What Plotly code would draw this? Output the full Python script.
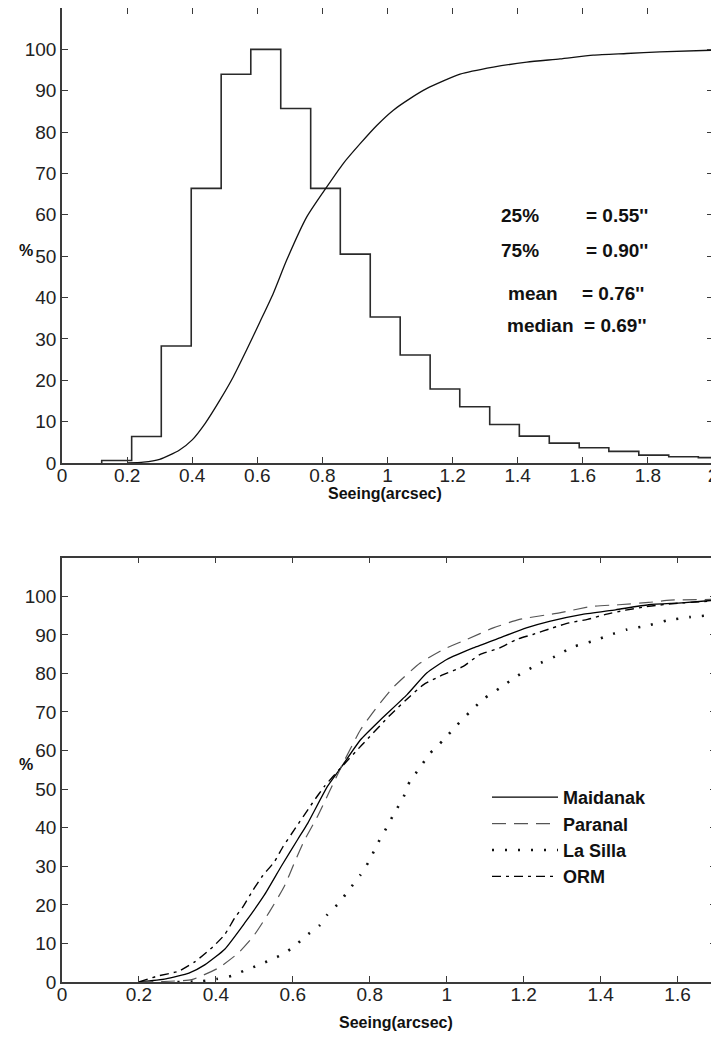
import plotly.graph_objects as go

# ---------------- top panel data ----------------
bin_left = [0.122, 0.214, 0.305, 0.397, 0.489, 0.580, 0.672, 0.764, 0.855, 0.947,
            1.039, 1.131, 1.222, 1.314, 1.405, 1.497, 1.589, 1.680, 1.772, 1.864, 1.955]
bin_width = 0.0917
hist_pct = [0.6, 6.4, 28.3, 66.4, 94.0, 100.0, 85.7, 66.4, 50.5, 35.3,
            26.1, 17.9, 13.6, 9.3, 6.5, 4.8, 3.7, 2.8, 1.9, 1.5, 1.3]

cdf_x = [0.20, 0.25, 0.30, 0.36, 0.40, 0.44, 0.485, 0.526, 0.567, 0.608, 0.649, 0.69,
         0.752, 0.813, 0.864, 0.916, 0.967, 1.018, 1.069, 1.12, 1.223, 1.325, 1.428,
         1.53, 1.632, 1.735, 1.837, 2.0]
cdf_y = [0.0, 0.2, 0.9, 3.1, 5.6, 9.6, 15.2, 20.8, 27.3, 34.1, 41.0, 49.0,
         59.5, 66.7, 72.4, 77.2, 81.6, 85.3, 88.1, 90.5, 94.0, 95.7, 96.9,
         97.7, 98.6, 99.0, 99.4, 99.8]

stat_labels = ["25%", "75%", "mean", "median"]
stat_values = ["= 0.55''", "= 0.90''", "= 0.76''", "= 0.69''"]

# ---------------- bottom panel data ----------------
maid_x = [0.20, 0.27, 0.33, 0.372, 0.423, 0.475, 0.527, 0.570, 0.613, 0.639, 0.690, 0.7245,
          0.776, 0.828, 0.897, 0.948, 1.0, 1.069, 1.138, 1.207, 1.267, 1.353, 1.439, 1.525,
          1.611, 1.7]
maid_y = [0.0, 0.8, 2.3, 4.5, 8.5, 15.3, 22.7, 30.0, 37.0, 41.2, 50.7, 55.5,
          62.8, 68.0, 74.5, 80.1, 83.6, 86.6, 89.2, 91.8, 93.5, 95.3, 96.5, 97.8,
          98.3, 99.0]

para_x = [0.20, 0.28, 0.337, 0.406, 0.458, 0.497, 0.540, 0.578, 0.604, 0.630, 0.664, 0.7245,
          0.776, 0.815, 0.862, 0.931, 0.991, 1.052, 1.121, 1.189, 1.293, 1.379, 1.447, 1.525,
          1.581, 1.7]
para_y = [0.0, 0.2, 0.6, 3.6, 7.5, 11.8, 18.3, 24.8, 30.9, 36.7, 42.9, 55.5,
          65.4, 70.8, 76.5, 82.7, 86.2, 88.8, 91.8, 94.0, 95.7, 97.4, 97.8, 98.4,
          99.0, 99.2]

lasi_x = [0.30, 0.363, 0.402, 0.441, 0.475, 0.514, 0.548, 0.576, 0.606, 0.632, 0.669, 0.690,
          0.720, 0.746, 0.776, 0.798, 0.819, 0.843, 0.864, 0.888, 0.904, 0.927, 0.955, 0.990,
          1.024, 1.059, 1.097, 1.138, 1.183, 1.235, 1.282, 1.329, 1.377, 1.422, 1.469, 1.522,
          1.572, 1.631, 1.7]
lasi_y = [0.0, 0.2, 0.8, 1.6, 3.0, 4.5, 6.0, 7.3, 9.4, 11.8, 14.6, 17.5,
          20.5, 23.9, 27.8, 31.3, 35.6, 39.9, 43.8, 48.0, 52.0, 55.1, 59.1, 62.6,
          66.3, 69.9, 73.5, 76.2, 79.3, 82.3, 84.4, 86.9, 88.3, 89.9, 91.4, 92.4,
          93.7, 94.6, 95.2]

orm_x = [0.20, 0.247, 0.303, 0.346, 0.393, 0.423, 0.449, 0.471, 0.497, 0.522, 0.553, 0.574,
         0.604, 0.651, 0.682, 0.7245, 0.78, 0.854, 0.905, 0.940, 0.991, 1.043, 1.086, 1.138,
         1.181, 1.224, 1.275, 1.318, 1.366, 1.413, 1.465, 1.525, 1.6, 1.7]
orm_y = [0.0, 1.5, 2.8, 5.3, 9.2, 12.3, 16.6, 19.6, 23.9, 27.6, 31.3, 35.0,
         39.5, 46.4, 50.7, 55.5, 61.5, 69.3, 74.1, 77.1, 79.7, 81.8, 84.9, 86.6,
         88.8, 90.1, 91.8, 93.1, 94.0, 95.3, 96.4, 97.4, 98.2, 98.8]

site_names = ["Maidanak", "Paranal", "La Silla", "ORM"]

top_ticks = [0, 0.2, 0.4, 0.6, 0.8, 1.0, 1.2, 1.4, 1.6, 1.8, 2.0]
top_tick_text = ["0", "0.2", "0.4", "0.6", "0.8", "1", "1.2", "1.4", "1.6", "1.8", "2"]
bot_ticks = [0, 0.2, 0.4, 0.6, 0.8, 1.0, 1.2, 1.4, 1.6]
bot_tick_text = ["0", "0.2", "0.4", "0.6", "0.8", "1", "1.2", "1.4", "1.6"]
y_ticks = [0, 10, 20, 30, 40, 50, 60, 70, 80, 90, 100]

# ---------------- figure geometry ----------------
# the page body has an 8px margin, so the figure starts at screen (8, 8)
OFF = 8
W, H = 719 - OFF, 1043 - OFF
ML, MR, MT, MB = 62 - OFF, 3, 0, H - (982 - OFF)
plot_w = W - ML - MR
plot_h = H - MT - MB


def px_x(p):
    """screen pixel x -> paper x"""
    return (p - OFF - ML) / plot_w


def px_y(p):
    """screen pixel y -> paper y"""
    return (H - MB - (p - OFF)) / plot_h


fig = go.Figure()

step_x = bin_left + [bin_left[-1] + bin_width]
step_y = hist_pct + [hist_pct[-1]]
fig.add_trace(go.Scatter(x=[bin_left[0]] + step_x, y=[0] + step_y, mode="lines",
                         line=dict(color="#2a2a2a", width=1.6, shape="hv"),
                         xaxis="x", yaxis="y", showlegend=False, hoverinfo="skip"))
fig.add_trace(go.Scatter(x=cdf_x, y=cdf_y, mode="lines",
                         line=dict(color="#111111", width=1.3, shape="spline", smoothing=0.6),
                         xaxis="x", yaxis="y", showlegend=False))

styles = [
    dict(color="#000000", width=1.3, dash="solid"),
    dict(color="#555555", width=1.2, dash="14px,8px"),
    dict(color="#111111", width=2.6, dash="2px,11px"),
    dict(color="#000000", width=1.4, dash="9px,5px,3px,5px"),
]
series = [(maid_x, maid_y), (para_x, para_y), (lasi_x, lasi_y), (orm_x, orm_y)]
for name, (xs, ys), st in zip(site_names, series, styles):
    fig.add_trace(go.Scatter(x=xs, y=ys, mode="lines", name=name,
                             line=dict(shape="spline", smoothing=0.5, **st),
                             xaxis="x2", yaxis="y2"))

axis_common = dict(showline=True, linecolor="#3a3a3a", linewidth=1.5, mirror="ticks",
                   ticks="inside", ticklen=6, tickwidth=1.3, tickcolor="#3a3a3a",
                   showgrid=False, zeroline=False, automargin=False,
                   tickfont=dict(family="Liberation Sans, Arial", size=19, color="#222222"))

fig.update_layout(
    width=W, height=H,
    margin=dict(l=ML, r=MR, t=MT, b=MB, autoexpand=False),
    paper_bgcolor="white", plot_bgcolor="white",
    xaxis=dict(domain=[0, px_x(713)], range=[0, 2], tickvals=top_ticks,
               ticktext=top_tick_text, anchor="y", ticklabelstandoff=-6, **axis_common),
    yaxis=dict(domain=[px_y(463), px_y(8)], range=[0, 110], tickvals=y_ticks,
               anchor="x", **axis_common),
    xaxis2=dict(domain=[0, 1], range=[0, 1.7], tickvals=bot_ticks,
                ticktext=bot_tick_text, anchor="y2", ticklabelstandoff=-6, **axis_common),
    yaxis2=dict(domain=[0, px_y(557.7)], range=[0, 110], tickvals=y_ticks,
                anchor="x2", **axis_common),
    showlegend=True,
    legend=dict(x=px_x(487), y=px_y(779), xanchor="left", yanchor="top",
                bgcolor="rgba(0,0,0,0)", itemwidth=66, tracegroupgap=0,
                font=dict(family="Liberation Sans, Arial", size=18, color="#111111",
                          weight="bold")),
)

ann_font = dict(family="Liberation Sans, Arial", size=19, color="#111111", weight="bold")
stat_pos_y = [59.9, 51.4, 41.0, 33.3]
label_x = [1.343, 1.343, 1.363, 1.361]
value_x = [1.604, 1.604, 1.591, None]
for lab, val, yv, lx, vx in zip(stat_labels, stat_values, stat_pos_y, label_x, value_x):
    if vx is None:
        fig.add_annotation(x=lx, y=yv, xref="x", yref="y", text=lab + "  " + val,
                           showarrow=False, xanchor="left", font=ann_font)
    else:
        fig.add_annotation(x=lx, y=yv, xref="x", yref="y", text=lab,
                           showarrow=False, xanchor="left", font=ann_font)
        fig.add_annotation(x=vx, y=yv, xref="x", yref="y", text=val,
                           showarrow=False, xanchor="left", font=ann_font)

title_font = dict(family="Liberation Sans, Arial", size=16, color="#111111", weight="bold")
fig.add_annotation(x=px_x(385), y=px_y(493), xref="paper", yref="paper",
                   text="Seeing(arcsec)", showarrow=False, font=title_font)
fig.add_annotation(x=px_x(396), y=px_y(1033), xref="paper", yref="paper",
                   text="Seeing(arcsec)", showarrow=False, font=title_font)
fig.add_annotation(x=px_x(17), y=px_y(240), xref="paper", yref="paper",
                   text="%", showarrow=False, font=title_font)
fig.add_annotation(x=px_x(17), y=px_y(775), xref="paper", yref="paper",
                   text="%", showarrow=False, font=title_font)

fig.write_html("out.html")
